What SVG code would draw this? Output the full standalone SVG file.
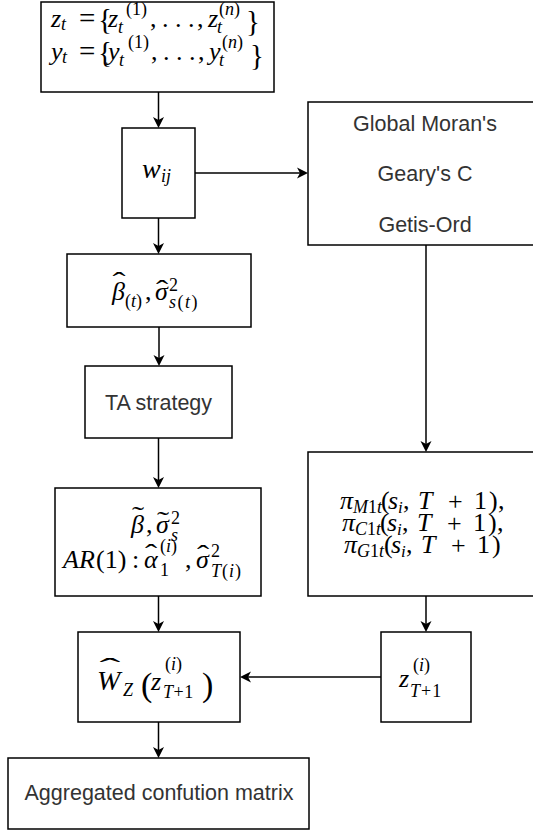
<svg xmlns="http://www.w3.org/2000/svg" width="533" height="830" viewBox="0 0 533 830">
<style>
.box{fill:#fff;stroke:#000;stroke-width:1.5}
.edge{fill:none;stroke:#000;stroke-width:1.5}
.lbl{font-family:"Liberation Sans",Arial,sans-serif;font-size:21.5px;fill:#333;text-anchor:middle}
.m{font-family:"Liberation Serif","Times New Roman",serif;font-size:26px;fill:#000}
.i{font-style:italic}
.s{font-size:18px}
.b{font-size:29px}
.acc{text-anchor:middle}
</style>
<defs>
<marker id="arr" markerUnits="userSpaceOnUse" markerWidth="12" markerHeight="12" viewBox="0 0 12 12" refX="7" refY="6" orient="auto"><path d="M0,0.5 L11,6 L0,11.5 L3,6 Z" fill="#000"/></marker>
</defs>
<rect width="533" height="830" fill="#fff"/>
<g id="connectors">
<path class="edge" d="M158.5,92 V124" marker-end="url(#arr)"/>
<path class="edge" d="M158.5,218 V250" marker-end="url(#arr)"/>
<path class="edge" d="M195,173 H304" marker-end="url(#arr)"/>
<path class="edge" d="M159,327 V362" marker-end="url(#arr)"/>
<path class="edge" d="M158.5,438 V484" marker-end="url(#arr)"/>
<path class="edge" d="M158.5,596 V628" marker-end="url(#arr)"/>
<path class="edge" d="M158.5,722 V754" marker-end="url(#arr)"/>
<path class="edge" d="M426,245 V448" marker-end="url(#arr)"/>
<path class="edge" d="M426,596 V628" marker-end="url(#arr)"/>
<path class="edge" d="M381,677 H244" marker-end="url(#arr)"/>
</g>
<g id="node-input">
<rect class="box" x="41" y="2" width="233" height="90"/>
<text class="m"><tspan class="i" x="51" y="27">z</tspan><tspan class="i s" x="61" y="30">t</tspan><tspan class="b" x="79" y="28">=</tspan><tspan class="b" x="98" y="29">{</tspan><tspan class="i" x="108" y="27">z</tspan><tspan class="i s" x="118" y="33">t</tspan><tspan class="s" x="126" y="15">(1)</tspan><tspan x="150" y="27">,</tspan><tspan x="162" y="27">.</tspan><tspan x="175" y="27">.</tspan><tspan x="188" y="27">.</tspan><tspan x="197" y="27">,</tspan><tspan class="i" x="208" y="27">z</tspan><tspan class="i s" x="217" y="33">t</tspan><tspan class="s" x="219" y="15">(<tspan class="i">n</tspan>)</tspan><tspan class="b" x="246" y="31">}</tspan></text>
<text class="m"><tspan class="i" x="51" y="60">y</tspan><tspan class="i s" x="62" y="63">t</tspan><tspan class="b" x="79" y="61">=</tspan><tspan class="b" x="98" y="62">{</tspan><tspan class="i" x="108" y="60">y</tspan><tspan class="i s" x="119" y="66">t</tspan><tspan class="s" x="128" y="48">(1)</tspan><tspan x="151" y="60">,</tspan><tspan x="163" y="60">.</tspan><tspan x="176" y="60">.</tspan><tspan x="189" y="60">.</tspan><tspan x="198" y="60">,</tspan><tspan class="i" x="209" y="60">y</tspan><tspan class="i s" x="219" y="66">t</tspan><tspan class="s" x="222" y="48">(<tspan class="i">n</tspan>)</tspan><tspan class="b" x="250" y="65">}</tspan></text>
</g>
<g id="node-wij">
<rect class="box" x="122" y="128" width="73" height="90"/>
<text class="m"><tspan class="i" x="142" y="178" font-size="28">w</tspan><tspan class="i s" x="161" y="182" font-size="19">ij</tspan></text>
</g>
<g id="node-stats">
<rect class="box" x="308" y="102" width="236" height="143"/>
<text class="lbl" x="425" y="130.5">Global Moran's</text>
<text class="lbl" x="425" y="181">Geary's C</text>
<text class="lbl" x="425" y="231.5">Getis-Ord</text>
</g>
<g id="node-betahat">
<rect class="box" x="67" y="254" width="184" height="73"/>
<text class="m"><tspan class="i" x="112" y="300">β</tspan><tspan class="s" x="125" y="307">(<tspan class="i">t</tspan>)</tspan><tspan x="145" y="300">,</tspan><tspan class="i" x="155" y="300">σ</tspan><tspan class="s" x="169" y="291">2</tspan><tspan class="s" x="169" y="308" letter-spacing="1.5"><tspan class="i">s</tspan>(<tspan class="i">t</tspan>)</tspan></text>
<text class="m acc" transform="translate(119,290) scale(1.5,1)">ˆ</text>
<text class="m acc" transform="translate(162,298) scale(1.4,1)">ˆ</text>
</g>
<g id="node-ta">
<rect class="box" x="85" y="366" width="147" height="72"/>
<text class="lbl" x="158.5" y="409.5">TA strategy</text>
</g>
<g id="node-betatilde">
<rect class="box" x="55" y="488" width="206" height="108"/>
<text class="m"><tspan class="i" x="131" y="533">β</tspan><tspan x="146" y="533">,</tspan><tspan class="i" x="156" y="533">σ</tspan><tspan class="s" x="171" y="524">2</tspan><tspan class="i s" x="171" y="541">s</tspan></text>
<text class="m acc" transform="translate(138,524) scale(1.4,1)">˜</text>
<text class="m acc" transform="translate(163,529) scale(1.4,1)">˜</text>
<text class="m"><tspan class="i" x="63" y="568">A</tspan><tspan class="i" x="79" y="568">R</tspan><tspan x="96" y="568">(1)</tspan><tspan x="132" y="568">:</tspan><tspan class="i" x="144" y="568">α</tspan><tspan class="s" x="160" y="552">(<tspan class="i">i</tspan>)</tspan><tspan class="s" x="160" y="576">1</tspan><tspan x="185" y="568">,</tspan><tspan class="i" x="196" y="568">σ</tspan><tspan class="s" x="211" y="557">2</tspan><tspan class="s" x="211" y="577" letter-spacing="1"><tspan class="i">T</tspan>(<tspan class="i">i</tspan>)</tspan></text>
<text class="m acc" transform="translate(151,562) scale(1.4,1)">ˆ</text>
<text class="m acc" transform="translate(203,563) scale(1.4,1)">ˆ</text>
</g>
<g id="node-pi">
<rect class="box" x="308" y="452" width="236" height="144"/>
<text class="m" font-size="24"><tspan class="i" x="340" y="509">π</tspan><tspan class="s" font-size="17" x="353" y="513"><tspan class="i">M</tspan>1<tspan class="i">t</tspan></tspan><tspan x="381" y="509">(</tspan><tspan class="i" x="388" y="509">s</tspan><tspan class="i" font-size="17" x="398" y="513">i</tspan><tspan x="403" y="509">,</tspan><tspan class="i" x="418" y="509">T</tspan><tspan x="448" y="510" font-size="26">+</tspan><tspan x="474" y="509">1</tspan><tspan x="489" y="509">)</tspan><tspan x="498" y="509">,</tspan></text>
<text class="m" font-size="24"><tspan class="i" x="342" y="531">π</tspan><tspan class="s" font-size="17" x="355" y="535"><tspan class="i">C</tspan>1<tspan class="i">t</tspan></tspan><tspan x="380" y="531">(</tspan><tspan class="i" x="387" y="531">s</tspan><tspan class="i" font-size="17" x="397" y="535">i</tspan><tspan x="402" y="531">,</tspan><tspan class="i" x="417" y="531">T</tspan><tspan x="447" y="532" font-size="26">+</tspan><tspan x="473" y="531">1</tspan><tspan x="488" y="531">)</tspan><tspan x="497" y="531">,</tspan></text>
<text class="m" font-size="24"><tspan class="i" x="344" y="553">π</tspan><tspan class="s" font-size="17" x="357" y="557"><tspan class="i">G</tspan>1<tspan class="i">t</tspan></tspan><tspan x="384" y="553">(</tspan><tspan class="i" x="391" y="553">s</tspan><tspan class="i" font-size="17" x="401" y="557">i</tspan><tspan x="406" y="553">,</tspan><tspan class="i" x="421" y="553">T</tspan><tspan x="451" y="554" font-size="26">+</tspan><tspan x="477" y="553">1</tspan><tspan x="492" y="553">)</tspan></text>
</g>
<g id="node-wz">
<rect class="box" x="78" y="632" width="162" height="90"/>
<text class="m"><tspan class="i" x="97" y="690" font-size="28">W</tspan><tspan class="i s" x="123" y="696">Z</tspan><tspan x="141" y="696" font-size="34">(</tspan><tspan class="i" x="151" y="690">z</tspan><tspan class="s" x="165" y="670">(<tspan class="i">i</tspan>)</tspan><tspan class="s" x="163" y="698" letter-spacing="0.5"><tspan class="i">T</tspan>+1</tspan><tspan x="202" y="696" font-size="34">)</tspan></text>
<text class="m acc" transform="translate(110,676) scale(2.4,1)">ˆ</text>
</g>
<g id="node-z">
<rect class="box" x="381" y="632" width="90" height="90"/>
<text class="m"><tspan class="i" x="399" y="687">z</tspan><tspan class="s" x="413" y="671">(<tspan class="i">i</tspan>)</tspan><tspan class="s" x="410" y="697" letter-spacing="1"><tspan class="i">T</tspan>+1</tspan></text>
</g>
<g id="node-agg">
<rect class="box" x="8" y="758" width="301" height="71"/>
<text class="lbl" x="159" y="799.5">Aggregated confution matrix</text>
</g>
</svg>
